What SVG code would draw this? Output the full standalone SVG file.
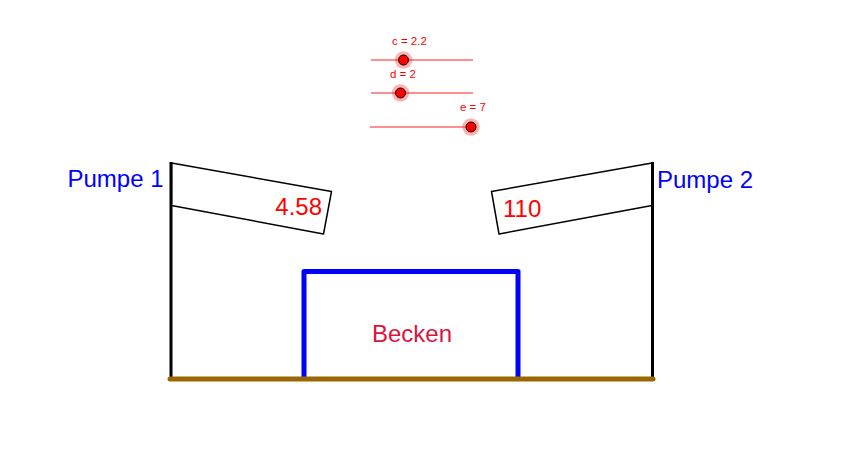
<svg xmlns="http://www.w3.org/2000/svg" width="845" height="462" viewBox="0 0 845 462">
<style>
.lbl{font-family:"Liberation Sans",Arial,sans-serif;font-size:24px}
.sl{stroke:#ff8f8f;stroke-width:2;fill:none}
.halo{fill:#ff0000;fill-opacity:0.3;stroke:none}
.pt{fill:#ff0000;stroke:#000;stroke-width:1}
.stxt{font-family:"Liberation Sans",Arial,sans-serif;font-size:11.5px;fill:#ff0000}
.pole{stroke:#000;stroke-width:3;fill:none}
.box{stroke:#000;stroke-width:1.5;fill:none;stroke-linejoin:round}
</style>
<rect width="845" height="462" fill="#fff"/>
<g id="slider-c">
<line class="sl" x1="371" y1="60" x2="473" y2="60"/>
<circle class="halo" cx="403.5" cy="60" r="8.7"/>
<circle class="pt" cx="403.5" cy="60" r="5"/>
<text class="stxt" x="392" y="45">c = 2.2</text>
</g>
<g id="slider-d">
<line class="sl" x1="371" y1="93" x2="473" y2="93"/>
<circle class="halo" cx="400.5" cy="93" r="8.7"/>
<circle class="pt" cx="400.5" cy="93" r="5"/>
<text class="stxt" x="390" y="78">d = 2</text>
</g>
<g id="slider-e">
<line class="sl" x1="370" y1="127" x2="472" y2="127"/>
<circle class="halo" cx="471" cy="127" r="8.7"/>
<circle class="pt" cx="471" cy="127" r="5"/>
<text class="stxt" x="460" y="111">e = 7</text>
</g>
<g id="pumpe1">
<line class="pole" x1="171" y1="162" x2="171" y2="379"/>
<polygon class="box" points="171.5,163 331.5,191.5 323.5,234 171.5,205.5"/>
<text class="lbl" x="322" y="214.5" fill="#ff0000" text-anchor="end">4.58</text>
<text class="lbl" x="67.5" y="187" fill="#0000ff">Pumpe 1</text>
</g>
<g id="pumpe2">
<line class="pole" x1="652.5" y1="162" x2="652.5" y2="379"/>
<polygon class="box" points="652,163 491.5,191.5 499,234 652,205.5"/>
<text class="lbl" x="503" y="216.5" fill="#ff0000">110</text>
<text class="lbl" x="657" y="188" fill="#0000ff">Pumpe 2</text>
</g>
<g id="becken">
<polyline points="304,379 304,271.5 518,271.5 518,379" fill="none" stroke="#0000ff" stroke-width="5" stroke-linejoin="round"/>
<text class="lbl" x="412" y="341.5" fill="#dc143c" text-anchor="middle">Becken</text>
</g>
<g id="boden">
<line x1="170" y1="379" x2="653" y2="379" stroke="#996600" stroke-width="5" stroke-linecap="round"/>
</g>
</svg>
